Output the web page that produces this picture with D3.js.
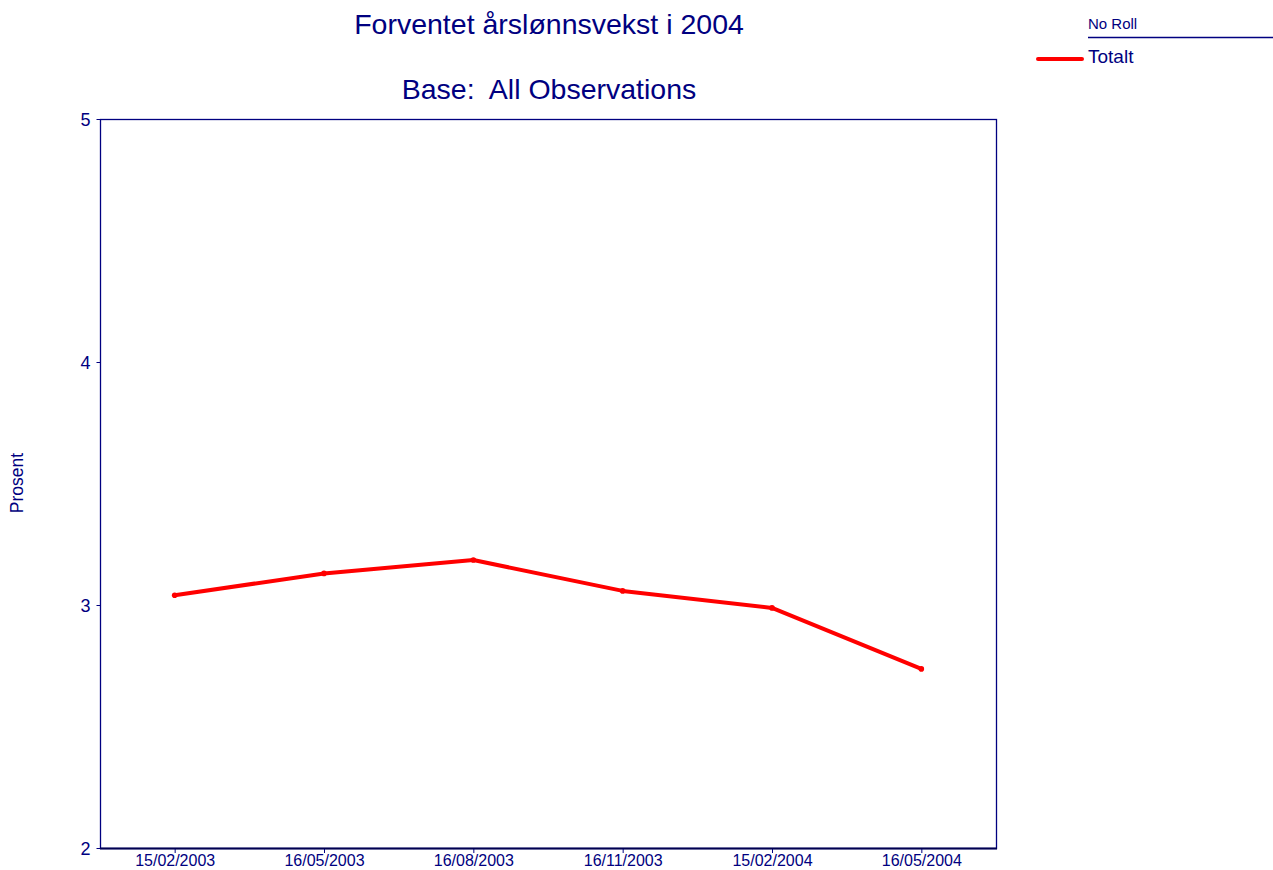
<!DOCTYPE html>
<html>
<head>
<meta charset="utf-8">
<script src="https://cdn.jsdelivr.net/npm/d3@7"></script>
<style>
  body { margin: 0; background: #fff; }
  svg { display: block; font-family: "Liberation Sans", Arial, sans-serif; }
</style>
</head>
<body>
<svg id="chart" width="1273" height="870"></svg>
<script>
const categories = ["15/02/2003", "16/05/2003", "16/08/2003", "16/11/2003", "15/02/2004", "16/05/2004"];
const totalt = [3.04, 3.13, 3.185, 3.058, 2.988, 2.737];
const yTicks = [2, 3, 4, 5];
const titleText = "Forventet årslønnsvekst i 2004";
const subtitleText = "Base:  All Observations";
const yLabel = "Prosent";
const legendHeader = "No Roll";
const seriesName = "Totalt";

const navy = "#000080";
const svg = d3.select("#chart");
const m = { left: 100, right: 996, top: 119, bottom: 848 };

const x = d3.scalePoint().domain(categories).range([m.left, m.right]).padding(0.5);
const y = d3.scaleLinear().domain([2, 5]).range([m.bottom, m.top]);

// Plot frame
svg.append("rect")
  .attr("x", m.left + 0.5).attr("y", m.top + 0.5)
  .attr("width", m.right - m.left).attr("height", m.bottom - m.top)
  .attr("fill", "none").attr("stroke", navy).attr("stroke-width", 1.3);
svg.append("line")
  .attr("x1", m.left).attr("x2", m.right + 1)
  .attr("y1", m.bottom + 0.5).attr("y2", m.bottom + 0.5)
  .attr("stroke", "#000050").attr("stroke-width", 2);

// Y axis
const yAxis = d3.axisLeft(y).tickValues(yTicks).tickFormat(d3.format("d")).tickSize(4).tickPadding(6);
const gy = svg.append("g").attr("transform", `translate(${m.left + 0.5},0)`).call(yAxis);
gy.select(".domain").remove();
gy.selectAll("line").attr("stroke", navy);
gy.selectAll("text").attr("fill", navy).style("font-size", "18px").attr("dy", "0.38em");

// X axis
const xAxis = d3.axisBottom(x).tickSize(4).tickPadding(2);
const gx = svg.append("g").attr("transform", `translate(0,${m.bottom + 1})`).call(xAxis);
gx.select(".domain").remove();
gx.selectAll("line").attr("stroke", navy);
gx.selectAll("text").attr("fill", navy).style("font-size", "16px");

// Line
const line = d3.line().x((d, i) => x(categories[i])).y(d => y(d));
svg.append("path").datum(totalt)
  .attr("d", line).attr("fill", "none")
  .attr("stroke", "#ff0000").attr("stroke-width", 4).attr("stroke-linejoin", "round");
svg.selectAll("circle.pt").data(totalt).enter().append("circle")
  .attr("class", "pt")
  .attr("cx", (d, i) => x(categories[i])).attr("cy", d => y(d))
  .attr("r", 2.8).attr("fill", "#ff0000");

// Titles
svg.append("text").attr("x", 549).attr("y", 34).attr("text-anchor", "middle")
  .attr("fill", navy).style("font-size", "28.5px").text(titleText);
svg.append("text").attr("x", 549).attr("y", 99).attr("text-anchor", "middle")
  .attr("fill", navy).style("font-size", "28.5px").style("white-space", "pre")
  .attr("xml:space", "preserve").text(subtitleText);

// Y label
svg.append("text").attr("transform", "translate(23,483) rotate(-90)")
  .attr("text-anchor", "middle").attr("fill", navy).style("font-size", "17.5px").text(yLabel);

// Legend
svg.append("text").attr("x", 1088).attr("y", 29).attr("fill", navy)
  .style("font-size", "15px").text(legendHeader);
svg.append("line").attr("x1", 1088).attr("x2", 1273).attr("y1", 37.5).attr("y2", 37.5)
  .attr("stroke", navy).attr("stroke-width", 1.3);
svg.append("line").attr("x1", 1038).attr("x2", 1082).attr("y1", 59).attr("y2", 59)
  .attr("stroke", "#ff0000").attr("stroke-width", 4).attr("stroke-linecap", "round");
svg.append("text").attr("x", 1088).attr("y", 63).attr("fill", navy)
  .style("font-size", "19px").text(seriesName);
</script>
</body>
</html>
